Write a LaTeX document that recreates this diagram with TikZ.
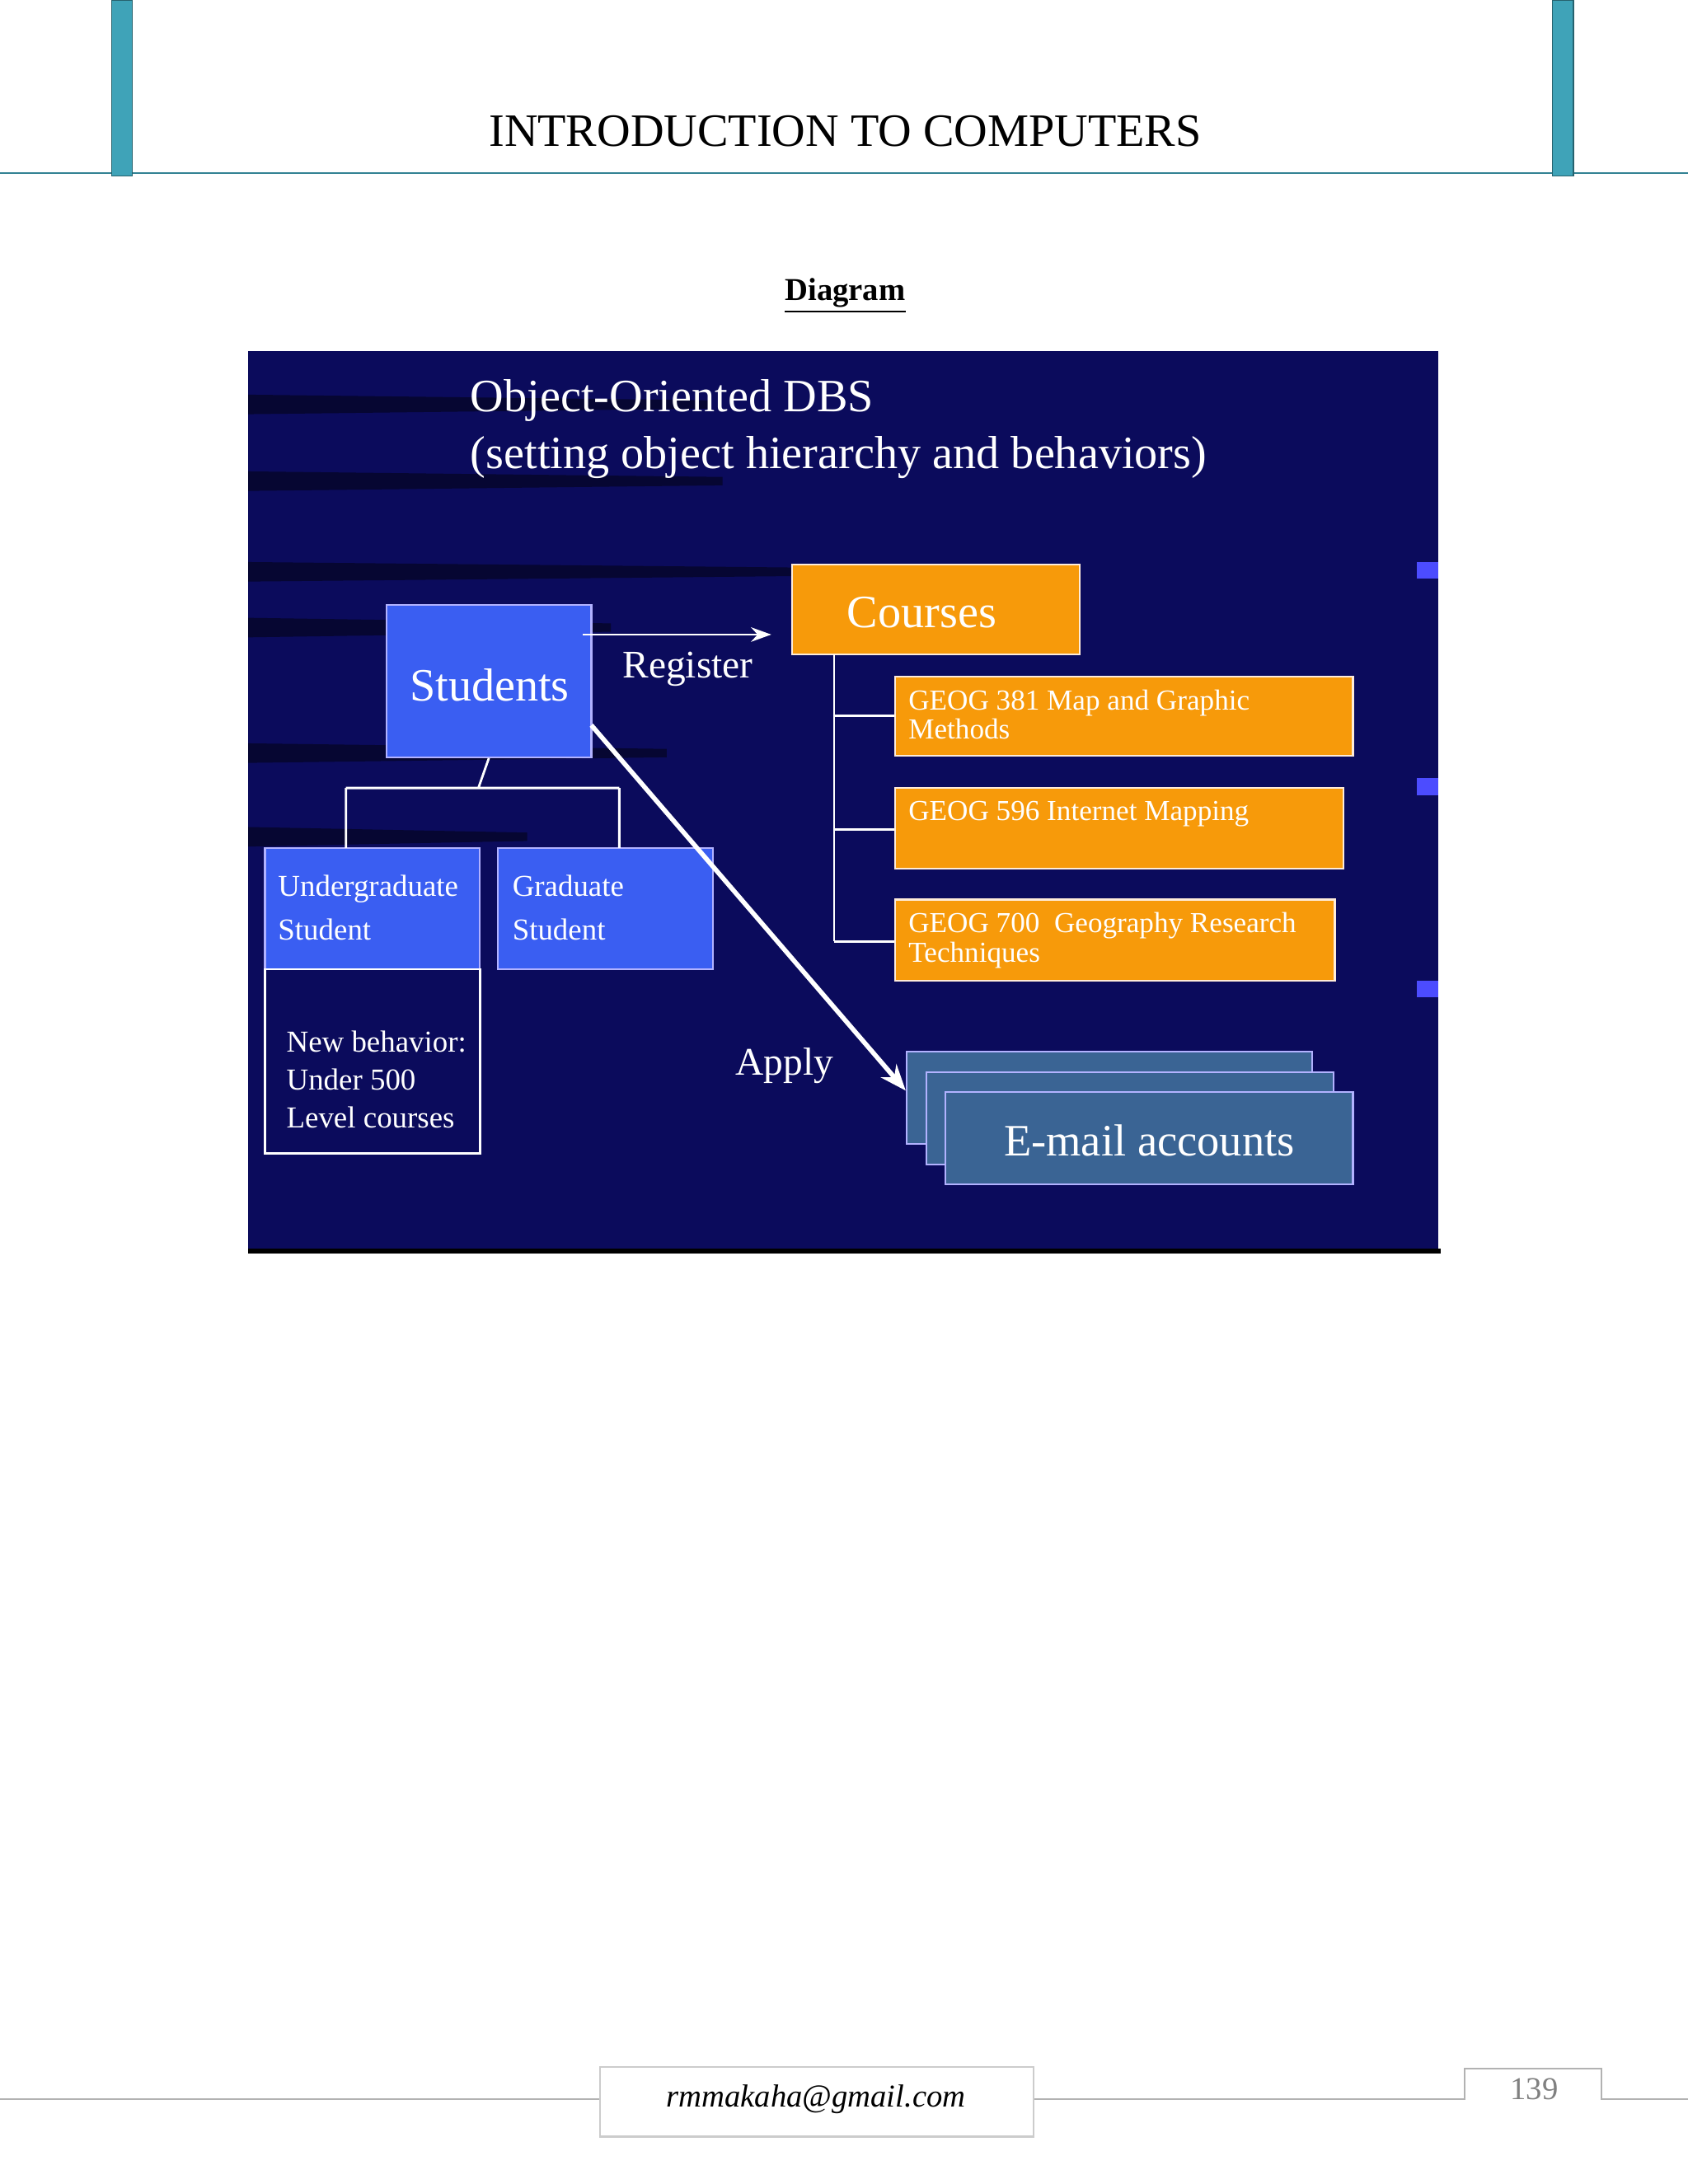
\documentclass[tikz,border=0pt]{standalone}
\usepackage{fontspec}
\setmainfont{Liberation Serif}
\usetikzlibrary{arrows.meta,fit}
\definecolor{navy}{HTML}{0B0B5C}
\definecolor{teal}{HTML}{3FA3B8}
\definecolor{orng}{HTML}{F79A0A}
\definecolor{blu}{HTML}{3A5EF2}
\definecolor{steel}{HTML}{3A6494}
\tikzset{
 obox/.style={draw=white!85!orange,fill=orng,line width=0.6pt,inner sep=0},
 bbox/.style={draw=white!70!blue,fill=blu,line width=0.6pt,inner sep=0},
 ebox/.style={draw=white!70!blue,fill=steel,line width=0.6pt,inner sep=0},
 wl/.style={white,line width=0.8pt},
 wt/.style={text=white,inner sep=0,anchor=west},
}
\begin{document}
\begin{tikzpicture}[x=0.016926cm,y=-0.016926cm]
\useasboundingbox (0,0) rectangle (1210,1566);
\fill[white] (0,0) rectangle (1210,1566);
% header
\draw[teal!80!black,line width=0.6pt] (0,124) -- (1210,124);
\fill[teal] (80,0) rectangle (95,126);
\fill[teal] (1113,0) rectangle (1128,126);
\draw[teal!60!black,line width=0.4pt] (80,0) rectangle (95,126) (1113,0) rectangle (1128,126);
\node[font=\fontsize{16}{18}\selectfont] (ttl) at (606,94) {INTRODUCTION TO COMPUTERS};
\node[font=\fontsize{11}{13}\selectfont\bfseries] (dg) at (606,212) {\underline{Diagram}};
% slide
\fill[navy] (178,252) rectangle (1031,895);
\foreach \y/\w in {290/330,345/340,410/400,450/260,540/300,600/200}
  \fill[black,opacity=0.45] (178,\y-7) -- (178+\w,\y-3) -- (178+\w,\y+3) -- (178,\y+7) -- cycle;
\fill[blue!70] (1016,403) rectangle (1031,415);
\fill[blue!70] (1016,558) rectangle (1031,570);
\fill[blue!70] (1016,703) rectangle (1031,715);
\draw[black,line width=1.6pt] (178,897) -- (1033,897);
\node[wt,font=\fontsize{16}{18}\selectfont] (t1) at (337,287) {Object-Oriented DBS};
\node[wt,font=\fontsize{16}{18}\selectfont] (t2) at (337,328) {(setting object hierarchy and behaviors)};
% boxes
\node[obox,fit={(568,405) (774,469)}] (courses) {};
\node[wt,font=\fontsize{16}{18}\selectfont] at (607,439) {Courses};
\node[bbox,fit={(277,434) (424,543)},text=white,font=\fontsize{16}{18}\selectfont] (students) {};
\node[text=white,font=\fontsize{16}{18}\selectfont] at (351,491) {Students};
\node[obox,fit={(642,485) (970,542)}] (c1) {};
\node[obox,fit={(642,565) (963,623)}] (c2) {};
\node[obox,fit={(642,645) (957,703)}] (c3) {};
\node[wt,font=\fontsize{10}{8}\selectfont,align=left,anchor=north west] at (651,494) {GEOG 381 Map and Graphic\\Methods};
\node[wt,font=\fontsize{10}{8}\selectfont,anchor=north west] at (651,574) {GEOG 596 Internet Mapping};
\node[wt,font=\fontsize{10}{8}\selectfont,align=left,anchor=north west] at (651,654) {GEOG 700\ \ Geography Research\\Techniques};
\draw[wl] (598,469) -- (598,675) (598,513) -- (c1.west|-598,513) (598,595) -- (c2.west|-598,595) (598,675) -- (c3.west|-598,675);
\node[bbox,fit={(190,608) (344,695)}] (ug) {};
\node[bbox,fit={(357,608) (511,695)}] (gr) {};
\node[wt,font=\fontsize{10.5}{15}\selectfont,align=left] at (199,651) {Undergraduate\\Student};
\node[wt,font=\fontsize{10.5}{15}\selectfont,align=left] at (367,651) {Graduate\\Student};
\draw[wl] (students.south) -- (343,565) (248,565) -- (444,565) (248,565) -- (248,608) (444,565) -- (444,608);
\node[draw=white,line width=0.8pt,inner sep=0,fit={(190,695) (344,827)}] (nbb) {};
\node[wt,font=\fontsize{10.5}{13}\selectfont,align=left] (nb) at (205,774) {New behavior:\\Under 500\\Level courses};
% email
\node[ebox,fit={(650,754) (941,820)}] (e1) {};
\node[ebox,fit={(664,769) (956,835)}] (e2) {};
\node[ebox,fit={(678,783) (970,849)}] (e3) {};
\node[text=white,font=\fontsize{15.5}{18}\selectfont] at (824,818) {E-mail accounts};
% arrows
\coordinate (ra) at (418,455); \coordinate (rb) at (553,455);
\draw[wl,-{Stealth[length=7pt,width=5pt]}] (ra) -- (rb);
\node[wt,font=\fontsize{13.5}{16}\selectfont] (reg) at (446,480) {Register};
\coordinate (aa) at (424,520);
\draw[white,line width=1.6pt,-{Stealth[length=9pt,width=7pt]}] (aa) -- (e1.west|-648,782);
\node[wt,font=\fontsize{13.5}{16}\selectfont] (ap) at (527,764) {Apply};
% footer
\draw[gray!60,line width=0.6pt] (0,1505) -- (430,1505) (741,1505) -- (1050,1505) |- (1148,1483) |- (1210,1505);
\draw[gray!40,line width=0.6pt] (430,1482) rectangle (741,1532);
\node[font=\fontsize{11}{13}\selectfont\itshape] (em) at (585,1505) {rmmakaha@gmail.com};
\node[font=\fontsize{11}{13}\selectfont,gray] (pg) at (1100,1498) {139};
\end{tikzpicture}
\end{document}
